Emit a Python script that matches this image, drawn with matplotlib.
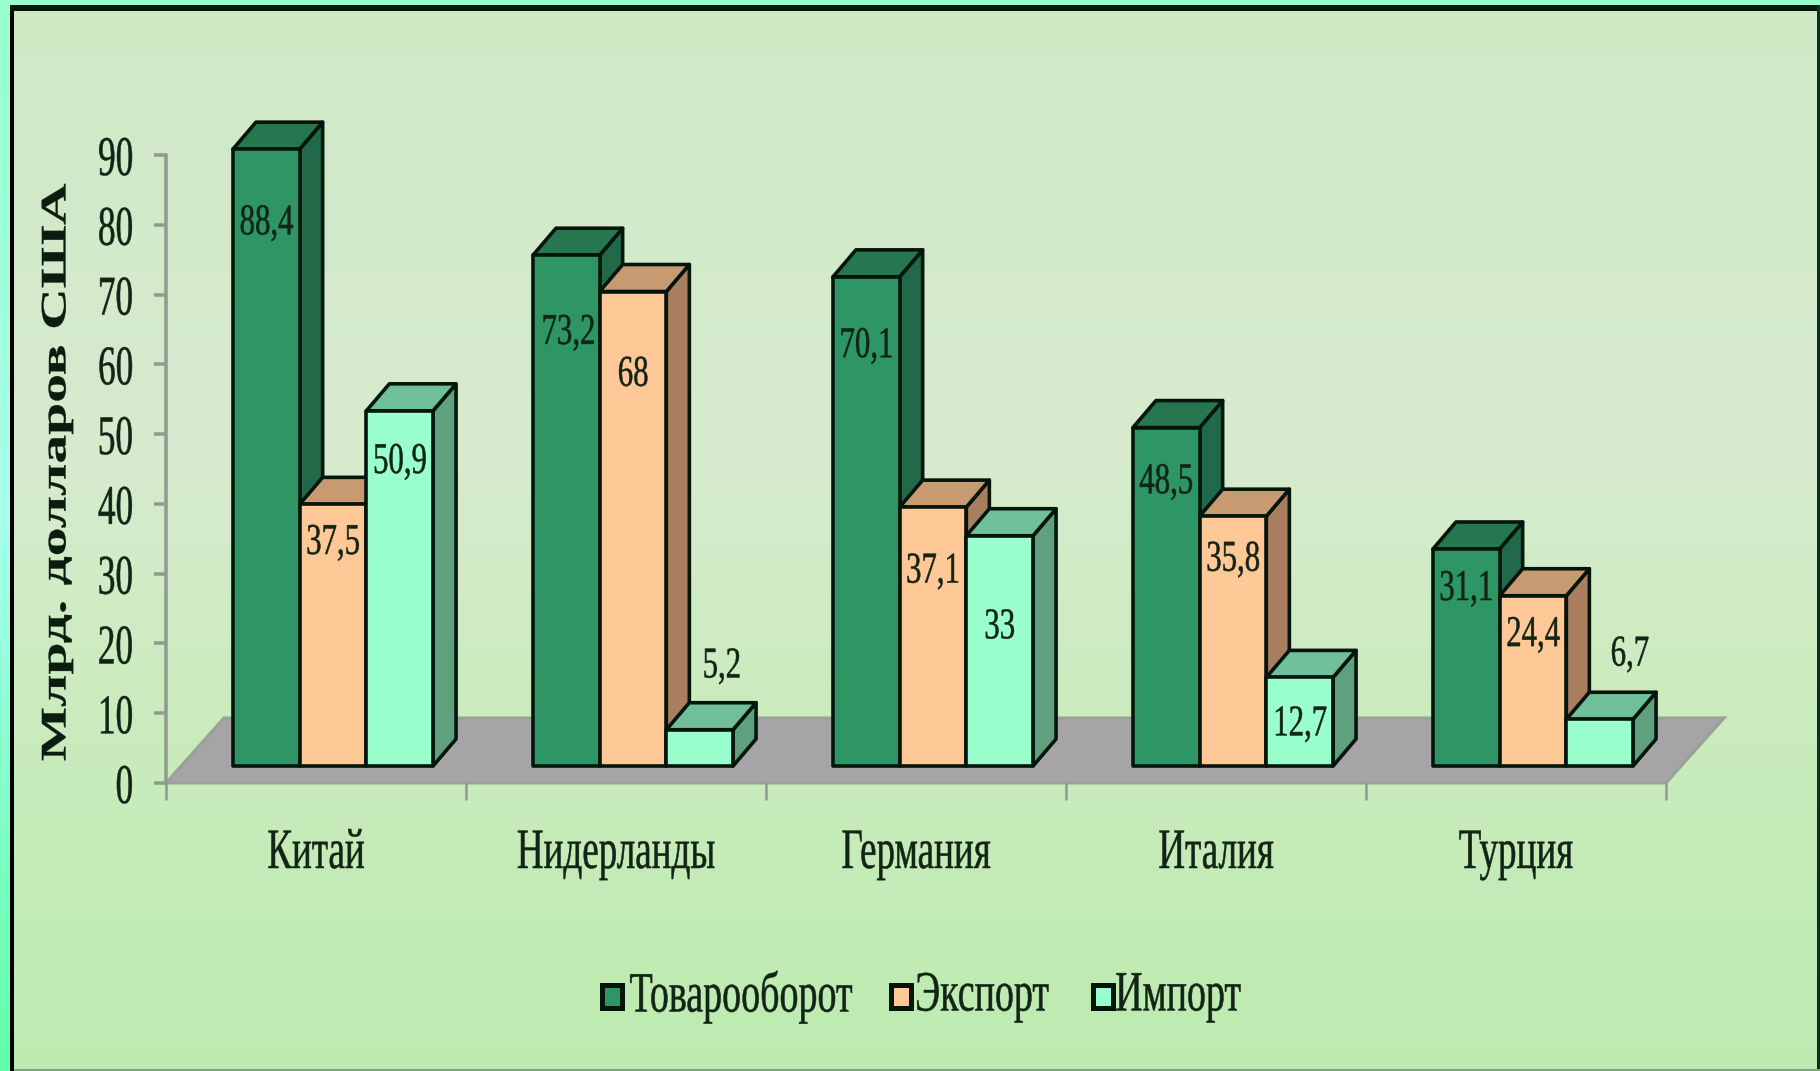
import numpy as np
import matplotlib
matplotlib.use("Agg")
import matplotlib.pyplot as plt
from matplotlib.patches import Polygon, Rectangle
from matplotlib.patheffects import AbstractPathEffect
from matplotlib.transforms import Affine2D
from matplotlib.colors import LinearSegmentedColormap

categories = ["Китай", "Нидерланды", "Германия", "Италия", "Турция"]
series_names = ["Товарооборот", "Экспорт", "Импорт"]
turnover = [88.4, 73.2, 70.1, 48.5, 31.1]
exports = [37.5, 68, 37.1, 35.8, 24.4]
imports = [50.9, 5.2, 33, 12.7, 6.7]
y_ticks = list(range(0, 100, 10))
ylabel = "Млрд. долларов США"

W, H = 1820, 1071
AX_L, AX_R, AX_T, AX_B = 166, 1666, 155, 783

front_colors = ["#2E9664", "#FFC896", "#99FFCC"]
top_colors = ["#267650", "#C89A72", "#6FBF98"]
side_colors = ["#22694A", "#A87E5E", "#5FA07F"]
text_color = "#122416"
axis_color = "#909A90"

# label centres, in value units, and their sideways shift in pixels
label_y = [[80.2, 64.5, 62.6, 43.1, 27.8],
           [34.4, 58.5, 30.3, 32.0, 21.2],
           [46.0, 16.7, 22.3, 8.4, 18.4]]
label_dx = [[0, 2, 0, 0, 0],
            [0, 0, 0, 0, 0],
            [0, 22, 0, 0, 30]]


class Squeeze(AbstractPathEffect):
    """Scale the glyph outlines about an edge of the text (the source is stretched)."""
    def __init__(self, sx=1.0, sy=1.0, anchor="center", stroke=0.35):
        super().__init__()
        self.sx, self.sy, self.anchor, self.stroke = sx, sy, anchor, stroke

    def draw_path(self, renderer, gc, tpath, affine, rgbFace=None):
        bb = tpath.transformed(affine).get_extents()
        cx = {"center": (bb.x0 + bb.x1) / 2, "right": bb.x1, "left": bb.x0}[self.anchor]
        cy = (bb.y0 + bb.y1) / 2
        a = affine + Affine2D().translate(-cx, -cy).scale(self.sx, self.sy).translate(cx, cy)
        gc0 = renderer.new_gc()
        gc0.copy_properties(gc)
        gc0.set_linewidth(self.stroke)
        gc0.set_foreground(rgbFace)
        renderer.draw_path(gc0, tpath, a, rgbFace)
        gc0.restore()


def pt(px):
    return px * 72 / 100


plt.rcParams["font.family"] = ["Liberation Serif", "DejaVu Serif"]
fig = plt.figure(figsize=(W / 100, H / 100), dpi=100)

# page background
bg = fig.add_axes([0, 0, 1, 1], zorder=0)
bg.axis("off")
cmap = LinearSegmentedColormap.from_list("page", [(0, "#CFE9C5"), (0.42, "#D7EBCF"),
                                                   (0.62, "#CDEBC0"), (1, "#BCEBB0")])
bg.imshow(np.linspace(0, 1, 256)[:, None], cmap=cmap, extent=[0, W, H, 0], aspect="auto")
edge = LinearSegmentedColormap.from_list("edge", ["#99FFCC", "#A5FFEA", "#60FFA8"])
bg.imshow(np.linspace(0, 1, 256)[:, None], cmap=edge, extent=[0, 10, H, 0], aspect="auto")
bg.add_patch(Rectangle((0, 0), W, 5, color="#99FFCC", lw=0))
bg.add_patch(Rectangle((10, 5), 4, H, color="#000000", lw=0))
bg.add_patch(Rectangle((10, 5), W, 6, color="#06180C", lw=0))
bg.add_patch(Rectangle((W - 3, 5), 3, H, color="#0C3020", lw=0))
bg.add_patch(Rectangle((14, H - 2), W, 2, color="#7FA57F", lw=0))
bg.set_xlim(0, W)
bg.set_ylim(H, 0)

ax = fig.add_axes([AX_L / W, 1 - AX_B / H, (AX_R - AX_L) / W, (AX_B - AX_T) / H], zorder=1)
ax.patch.set_alpha(0)
ax.set_xlim(0, 5)
ax.set_ylim(0, 90)
PX_X = 5 / (AX_R - AX_L)
PX_Y = 90 / (AX_B - AX_T)

# floor
floor_dx, floor_dy = 58 * PX_X, 65 * PX_Y
ax.add_patch(Polygon([(0, 0), (5, 0), (5 + floor_dx, floor_dy), (floor_dx, floor_dy)],
                     closed=True, facecolor="#A6A4A6", edgecolor="#9AA09A", lw=pt(3),
                     clip_on=False, zorder=1))

# bars
bar_w = 66.7 * PX_X
front_x, front_y = 17 * PX_X, 17 * PX_Y
depth_x, depth_y = 23 * PX_X, 27 * PX_Y
all_values = [turnover, exports, imports]
for i in range(len(categories)):
    for j, vals in enumerate(all_values):
        x0 = i + 0.5 + front_x + (j - 1.5) * bar_w
        x1 = x0 + bar_w
        v = vals[i] + front_y
        ec = dict(edgecolor="#04150C", lw=pt(3.6), joinstyle="round", clip_on=False, zorder=3 + i * 3 + j * 0.5)
        ax.add_patch(Polygon([(x1, front_y), (x1 + depth_x, front_y + depth_y),
                              (x1 + depth_x, v + depth_y), (x1, v)],
                             closed=True, facecolor=side_colors[j], **ec))
        ax.add_patch(Polygon([(x0, v), (x1, v), (x1 + depth_x, v + depth_y), (x0 + depth_x, v + depth_y)],
                             closed=True, facecolor=top_colors[j], **ec))
        ax.bar(x0, vals[i], width=bar_w, bottom=front_y, align="edge",
               color=front_colors[j], **ec)
        ax.text(x0 + bar_w / 2 + label_dx[j][i] * PX_X, label_y[j][i], f"{vals[i]:g}".replace(".", ","),
                ha="center", va="center", fontsize=pt(44), color=text_color, zorder=50,
                path_effects=[Squeeze(sx=0.70)])

# axes
for s in ["top", "right", "bottom"]:
    ax.spines[s].set_visible(False)
ax.spines["left"].set_color(axis_color)
ax.spines["left"].set_linewidth(pt(3.5))
ax.spines["left"].set_zorder(2)
ax.set_yticks(y_ticks)
ax.set_yticklabels([str(t) for t in y_ticks], fontsize=pt(56), color=text_color,
                   path_effects=[Squeeze(sx=0.63, anchor="right")])
ax.tick_params(axis="y", length=pt(12), width=pt(3.5), color=axis_color, pad=pt(20))
ax.set_xticks(range(6))
ax.set_xticklabels([])
ax.tick_params(axis="x", which="major", length=pt(17), width=pt(2.5), color=axis_color)
ax.set_xticks([i + 0.5 for i in range(5)], minor=True)
ax.set_xticklabels(categories, minor=True, fontsize=pt(57), color=text_color,
                   path_effects=[Squeeze(sx=0.65)])
ax.tick_params(axis="x", which="minor", length=0, pad=pt(45))

# y axis title
fig.text(57 / W, 1 - 472 / H, ylabel, rotation=90, ha="center", va="center",
         fontsize=pt(36), fontweight="bold", color="#0C1C10",
         path_effects=[Squeeze(sy=1.6, stroke=0.2)], zorder=5)

# legend
overlay = fig.add_axes([0, 0, 1, 1], zorder=2)
overlay.set_xlim(0, W)
overlay.set_ylim(H, 0)
overlay.axis("off")
legend_marker_x = [602, 891, 1093]
legend_text_x = [741, 982, 1178]
for name, c, mx, tx in zip(series_names, front_colors, legend_marker_x, legend_text_x):
    overlay.add_patch(Rectangle((mx, 985), 20, 23, facecolor=c, edgecolor="#04150C", lw=pt(5)))
    overlay.text(tx, 997, name, ha="center", va="center", fontsize=pt(38), color=text_color,
                 path_effects=[Squeeze(sy=1.5)])

fig.savefig("out.png", dpi=100)
